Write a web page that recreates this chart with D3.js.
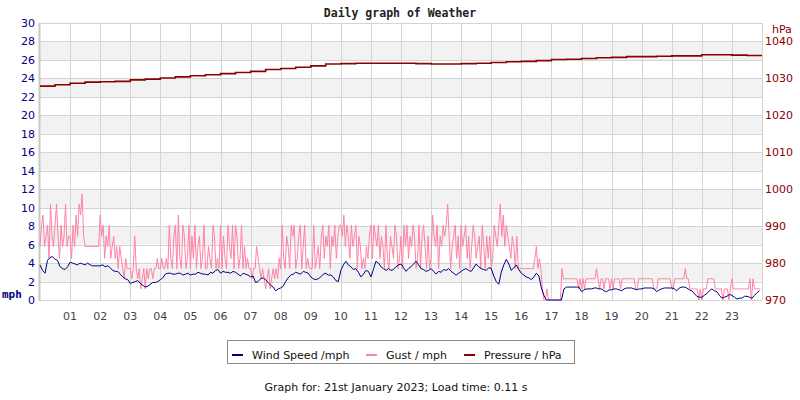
<!DOCTYPE html>
<html>
<head>
<meta charset="utf-8">
<script src="https://cdn.jsdelivr.net/npm/d3@7"></script>
<style>
  body { margin: 0; background: #fff; }
  text { font-family: "DejaVu Sans", sans-serif; }
</style>
</head>
<body>
<script>
// readings, one value per step (minutes) from midnight
var windStep = 5
var gustStep = 3
var pressureStep = 30

var hourLabels = ["01","02","03","04","05","06","07","08","09","10","11","12",
  "13","14","15","16","17","18","19","20","21","22","23"]
var mphTicks = [0,2,4,6,8,10,12,14,16,18,20,22,24,26,28,30]
var hpaTicks = [970,980,990,1000,1010,1020,1030,1040]

// wind speed, mph, every 5 min (one row per hour)
var wind = [
  3.8,3.2,2.9,4.3,4.6,4.7,4.4,4.3,3.6,3.4,3.3,3.6,
  4.1,4.0,3.9,3.8,4.0,3.9,3.8,4.0,3.8,3.7,3.7,3.7,
  3.7,3.8,3.6,3.7,3.5,3.2,3.1,3.1,2.8,2.5,2.3,2.2,
  1.8,1.9,2.0,2.1,1.8,1.6,1.4,1.5,1.7,1.9,1.9,2.0,
  2.2,2.4,2.8,2.9,2.9,2.8,2.8,2.9,2.9,2.7,2.8,2.9,
  2.7,2.8,2.8,3.0,2.9,2.8,2.8,2.7,3.0,2.9,3.2,3.3,
  2.9,3.1,3.0,3.0,2.9,3.1,3.0,2.8,2.6,2.9,2.8,2.7,
  2.5,2.6,1.9,2.0,2.3,2.4,2.2,1.9,1.6,1.4,1.0,1.2,
  1.3,1.5,2.0,2.4,2.7,2.8,3.0,2.9,2.8,3.1,3.0,2.9,
  2.5,2.3,2.2,2.3,2.5,2.8,2.9,2.7,2.7,2.5,2.1,2.0,
  3.2,3.8,4.2,3.8,3.6,3.3,3.4,3.0,2.5,2.8,3.2,3.1,
  2.5,3.3,4.2,4.0,3.6,3.4,3.2,3.4,3.2,3.3,3.6,3.8,
  3.9,3.5,3.1,3.4,3.6,3.9,4.2,3.8,3.4,3.3,3.1,3.2,
  3.4,3.1,2.8,3.1,3.0,3.3,3.2,3.4,3.1,2.9,2.7,2.9,
  3.1,3.3,3.4,3.2,3.1,3.5,3.9,3.6,3.4,3.3,3.2,3.5,
  3.4,2.6,2.0,1.7,3.0,3.8,4.4,3.9,3.2,3.5,3.8,3.3,
  2.9,2.7,2.5,2.4,2.2,2.5,2.9,2.6,1.3,0.5,0,0,
  0,0,0,0,0,1.2,1.4,1.4,1.4,1.4,1.4,1.4,
  0.9,1.1,1.2,1.2,1.2,1.3,1.3,1.2,1.2,1.0,0.9,1.1,
  1.1,1.2,1.2,1.1,1.0,1.2,1.3,1.3,1.3,1.2,1.1,1.2,
  1.2,1.3,1.3,1.3,1.3,1.2,0.9,1.1,1.2,1.3,1.3,1.3,
  1.3,1.2,1.0,1.3,1.4,1.4,1.3,1.1,1.0,0.7,0.4,0.3,
  0.3,0.5,0.7,1.0,1.2,1.0,0.9,0.5,0.2,0.3,0.4,0.6,
  0.5,0.3,0.1,0.2,0.2,0.4,0.4,0.3,0.2,0.5,0.8,1.0
]

// gust, mph, every 3 min (one row per hour)
var gust = [
  5.8,8.1,9.2,5.8,6.9,8.1,4.5,10.4,6.9,5.8,8.1,10.4,6.9,4.5,8.1,5.8,6.9,10.4,5.8,6.9,
  6.9,4.5,8.1,5.8,9.2,6.9,10.4,9.2,11.5,6.9,5.8,5.8,5.8,5.8,5.8,5.8,5.8,5.8,5.8,5.8,
  9.2,6.9,8.1,4.5,6.9,5.8,8.1,4.5,5.8,6.9,4.5,5.8,3.4,5.8,4.5,3.4,2.3,4.5,3.4,3.4,
  3.4,2.3,3.4,6.9,3.4,2.3,3.4,1.2,2.3,3.4,1.2,3.4,2.3,3.4,3.4,2.3,3.4,3.4,4.5,3.4,
  3.4,4.5,3.4,3.4,4.5,3.4,8.1,4.5,3.4,6.9,8.1,3.4,9.2,4.5,3.4,8.1,6.9,3.4,4.5,8.1,
  3.4,6.9,4.5,8.1,3.4,5.8,6.9,3.4,4.5,8.1,3.4,3.4,5.8,4.5,3.4,8.1,6.9,3.4,4.5,3.4,
  8.1,3.4,6.9,4.5,3.4,8.1,5.8,4.5,8.1,3.4,8.1,6.9,3.4,4.5,8.1,3.4,5.8,3.4,4.5,3.4,
  3.4,2.3,3.4,3.4,5.8,4.5,3.4,2.3,3.4,2.3,1.2,2.3,3.4,1.2,2.3,3.4,2.3,3.4,2.3,4.5,
  3.4,8.1,4.5,3.4,6.9,5.8,3.4,8.1,6.9,8.1,3.4,4.5,6.9,8.1,3.4,5.8,8.1,3.4,4.5,3.4,
  3.4,3.4,8.1,3.4,4.5,5.8,3.4,6.9,8.1,4.5,6.9,5.8,8.1,3.4,6.9,5.8,8.1,4.5,6.9,8.1,
  8.1,6.9,9.2,5.8,8.1,6.9,4.5,8.1,5.8,6.9,8.1,3.4,6.9,5.8,3.4,4.5,3.4,5.8,4.5,6.9,
  8.1,4.5,8.1,6.9,5.8,8.1,4.5,6.9,5.8,3.4,8.1,4.5,3.4,6.9,5.8,4.5,8.1,6.9,3.4,4.5,
  6.9,3.4,8.1,5.8,8.1,4.5,6.9,5.8,8.1,6.9,3.4,4.5,8.1,3.4,6.9,8.1,5.8,3.4,6.9,3.4,
  4.5,9.2,6.9,5.8,8.1,3.4,6.9,5.8,8.1,6.9,8.1,10.4,6.9,3.4,5.8,6.9,8.1,4.5,6.9,3.4,
  8.1,5.8,6.9,8.1,4.5,6.9,3.4,5.8,8.1,6.9,4.5,5.8,6.9,3.4,8.1,5.8,3.4,6.9,4.5,6.9,
  3.4,4.5,8.1,6.9,5.8,8.1,10.4,6.9,9.2,5.8,8.1,6.9,5.8,4.5,6.9,5.8,3.4,6.9,3.4,3.4,
  3.4,3.4,3.4,3.4,3.4,3.4,3.4,3.4,3.4,4.5,5.8,3.4,4.5,3.4,1.2,0,0,1.2,0,0,
  0,0,0,0,0,0,0,3.4,2.3,2.3,2.3,2.3,2.3,2.3,2.3,2.3,2.3,2.3,1.2,2.3,
  1.2,2.3,1.2,2.3,2.3,2.3,2.3,2.3,2.3,2.3,3.4,2.3,1.2,2.3,2.3,1.2,2.3,2.3,2.3,1.2,
  2.3,1.2,2.3,2.3,2.3,2.3,1.2,2.3,2.3,2.3,2.3,2.3,2.3,2.3,2.3,2.3,1.2,1.2,2.3,2.3,
  2.3,2.3,2.3,2.3,2.3,2.3,2.3,2.3,1.2,1.2,1.2,2.3,2.3,2.3,2.3,2.3,2.3,2.3,2.3,2.3,
  1.2,1.2,2.3,2.3,2.3,2.3,2.3,2.3,2.3,3.4,2.3,2.3,1.2,1.2,1.2,1.2,1.2,1.2,0,1.2,
  0,1.2,1.2,1.2,2.3,2.3,2.3,2.3,2.3,1.2,1.2,1.2,1.2,1.2,0,1.2,1.2,1.2,0,1.2,
  2.3,1.2,1.2,1.2,1.2,1.2,1.2,1.2,1.2,1.2,1.2,1.2,2.3,0,2.3,1.2,1.2,1.2,1.2,1.2
]

// pressure, hPa, every 30 min
var pressure = [
  1027.9,1028.3,1028.7,1029.0,1029.1,1029.2,1029.6,1029.8,1030.1,1030.4,
  1030.7,1031.0,1031.3,1031.6,1031.9,1032.4,1032.7,1033.0,1033.4,1033.9,
  1034.0,1034.1,1034.1,1034.1,1034.1,1034.0,1033.9,1033.9,1034.0,1034.1,
  1034.3,1034.5,1034.6,1034.8,1035.1,1035.2,1035.4,1035.6,1035.7,1035.9,
  1035.9,1036.0,1036.1,1036.1,1036.4,1036.4,1036.3,1036.2,1036.2
]

var seriesNames = ["Wind Speed /mph", "Gust / mph", "Pressure / hPa"]

var color = {
  wind: "#000080",
  gust: "#ff82a6",
  pressure: "#8b0000",
  grid: "#d4d4d4",
  band: "#f2f2f2"
}

var width = 800, height = 400
var plot = { left: 40, right: 762, top: 23, bottom: 300 }

var x = d3.scaleLinear().domain([0, 24]).range([plot.left, plot.right])
var yMph = d3.scaleLinear().domain([0, 30]).range([plot.bottom, plot.top])
var yHpa = d3.scaleLinear().domain([970, 1045]).range([plot.bottom, plot.top])

var svg = d3.select("body").append("svg")
  .attr("width", width)
  .attr("height", height)

// alternating bands
var bands = mphTicks.filter(function(d) { return d % 4 == 2 && d < 30 })
svg.append("g").selectAll("rect")
  .data(bands)
  .enter().append("rect")
  .attr("x", plot.left)
  .attr("width", plot.right - plot.left)
  .attr("y", function(d) { return yMph(d + 2) })
  .attr("height", function(d) { return yMph(d) - yMph(d + 2) })
  .style("fill", color.band)

// grid
svg.append("g").selectAll("line")
  .data(mphTicks)
  .enter().append("line")
  .attr("x1", plot.left).attr("x2", plot.right)
  .attr("y1", function(d) { return Math.round(yMph(d)) + 0.5 })
  .attr("y2", function(d) { return Math.round(yMph(d)) + 0.5 })
  .style("stroke", color.grid)

svg.append("g").selectAll("line")
  .data(d3.range(1, 25))
  .enter().append("line")
  .attr("x1", function(d) { return Math.round(x(d)) + 0.5 })
  .attr("x2", function(d) { return Math.round(x(d)) + 0.5 })
  .attr("y1", plot.top).attr("y2", plot.bottom)
  .style("stroke", color.grid)

svg.append("line")
  .attr("x1", plot.left - 0.5).attr("x2", plot.left - 0.5)
  .attr("y1", plot.top).attr("y2", plot.bottom + 1)
  .style("stroke", "#c8c8c8").style("stroke-width", 2)

// series
var gustLine = d3.line()
  .x(function(d, i) { return x(i * gustStep / 60) })
  .y(function(d) { return yMph(d) })
var windLine = d3.line()
  .x(function(d, i) { return x(i * windStep / 60) })
  .y(function(d) { return yMph(d) })
var pressureLine = d3.line()
  .x(function(d, i) { return x(i * pressureStep / 60) })
  .y(function(d) { return yHpa(d) })
  .curve(d3.curveStepAfter)

svg.append("path").attr("d", gustLine(gust))
  .style("fill", "none").style("stroke", color.gust).style("stroke-width", 1)
svg.append("path").attr("d", windLine(wind))
  .style("fill", "none").style("stroke", color.wind).style("stroke-width", 1)
svg.append("path").attr("d", pressureLine(pressure))
  .style("fill", "none").style("stroke", color.pressure).style("stroke-width", 1.6)

// axes labels
svg.append("g").selectAll("text")
  .data(mphTicks)
  .enter().append("text")
  .attr("x", 35)
  .attr("y", function(d) { return yMph(d) + 4 })
  .attr("text-anchor", "end")
  .attr("font-size", "11px")
  .style("fill", color.wind)
  .text(function(d) { return d })

svg.append("g").selectAll("text")
  .data(hpaTicks)
  .enter().append("text")
  .attr("x", 765)
  .attr("y", function(d) { return yHpa(d) + 4 })
  .attr("font-size", "11px")
  .style("fill", color.pressure)
  .text(function(d) { return d })

svg.append("g").selectAll("text")
  .data(hourLabels)
  .enter().append("text")
  .attr("x", function(d) { return x(+d) })
  .attr("y", 319.5)
  .attr("text-anchor", "middle")
  .attr("font-size", "11px")
  .style("fill", "#444")
  .text(function(d) { return d })

svg.append("text")
  .attr("x", 2).attr("y", 298)
  .attr("font-size", "11px")
  .attr("font-weight", "bold")
  .style("font-family", "'DejaVu Sans Mono', monospace")
  .style("fill", color.wind)
  .text("mph")

svg.append("text")
  .attr("x", 772).attr("y", 33)
  .attr("font-size", "11px")
  .style("fill", color.pressure)
  .text("hPa")

svg.append("text")
  .attr("x", 400).attr("y", 17)
  .attr("text-anchor", "middle")
  .attr("font-size", "11.5px")
  .attr("font-weight", "bold")
  .style("font-family", "'DejaVu Sans Mono', monospace")
  .style("fill", "#222")
  .text("Daily graph of Weather")

// legend
var legend = svg.append("g")
legend.append("rect")
  .attr("x", 227.5).attr("y", 340.5)
  .attr("width", 347).attr("height", 23)
  .style("fill", "#fff").style("stroke", "#888")

var legendX = [232, 366, 464]
var legendColors = [color.wind, color.gust, color.pressure]
var item = legend.selectAll("g.item")
  .data(seriesNames)
  .enter().append("g")
  .attr("transform", function(d, i) { return "translate(" + legendX[i] + ",0)" })
item.append("line")
  .attr("x1", 0).attr("x2", 11)
  .attr("y1", 355).attr("y2", 355)
  .style("stroke", function(d, i) { return legendColors[i] })
  .style("stroke-width", 2)
item.append("text")
  .attr("x", 20).attr("y", 358.5)
  .attr("font-size", "11px")
  .style("fill", "#111")
  .text(function(d) { return d })

svg.append("text")
  .attr("x", 396).attr("y", 391)
  .attr("text-anchor", "middle")
  .attr("font-size", "11px")
  .style("fill", "#111")
  .text("Graph for: 21st January 2023; Load time: 0.11 s")
</script>
</body>
</html>
